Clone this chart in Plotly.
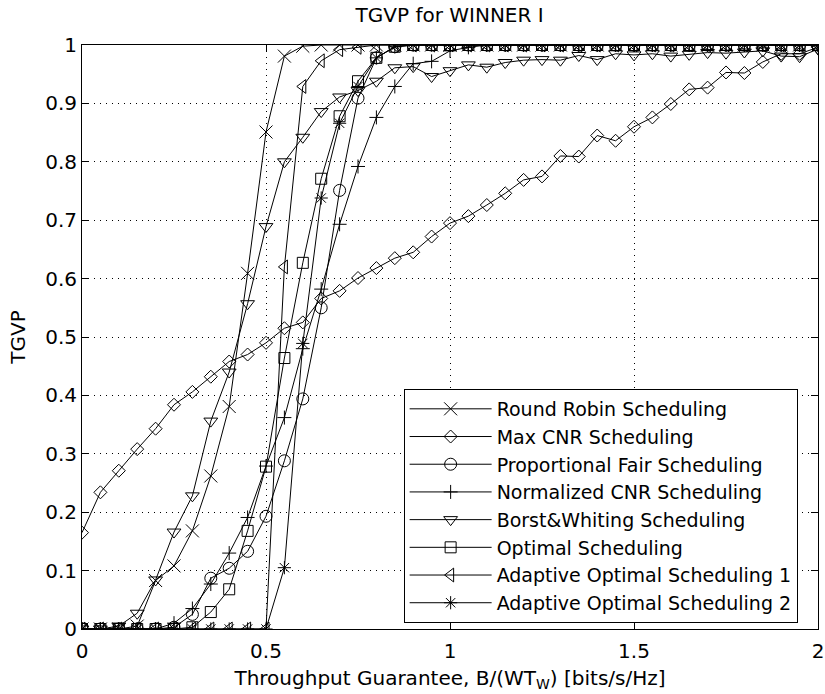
import plotly.graph_objects as go

# Throughput guarantee values (x axis)
x_vals = [0.0, 0.05, 0.1, 0.15, 0.2, 0.25, 0.3, 0.35, 0.4, 0.45,
          0.5, 0.55, 0.6, 0.65, 0.7, 0.75, 0.8, 0.85, 0.9, 0.95,
          1.0, 1.05, 1.1, 1.15, 1.2, 1.25, 1.3, 1.35, 1.4, 1.45,
          1.5, 1.55, 1.6, 1.65, 1.7, 1.75, 1.8, 1.85, 1.9, 1.95, 2.0]

round_robin = [0, 0, 0, 0.005, 0.083, 0.108, 0.168, 0.262, 0.381, 0.609,
               0.851, 0.981, 0.998] + [1.0] * 28

max_cnr = [0.165, 0.234, 0.271, 0.308, 0.343, 0.384, 0.406, 0.432, 0.458, 0.470,
           0.490, 0.515, 0.525, 0.566, 0.579, 0.601, 0.618, 0.635, 0.645, 0.672,
           0.695, 0.707, 0.726, 0.746, 0.769, 0.775, 0.810, 0.809, 0.845, 0.836,
           0.860, 0.876, 0.899, 0.924, 0.927, 0.953, 0.952, 0.971, 0.985, 0.985, 0.996]

prop_fair = [0, 0, 0, 0, 0, 0.003, 0.025, 0.087, 0.104, 0.133,
             0.193, 0.288, 0.394, 0.550, 0.751, 0.909, 0.978, 0.997] + [1.0] * 23

norm_cnr = [0, 0, 0, 0, 0, 0.010, 0.035, 0.077, 0.130, 0.191,
            0.279, 0.362, 0.480, 0.582, 0.693, 0.792, 0.876, 0.929, 0.968, 0.972,
            0.990, 0.996] + [1.0] * 19

borst_whiting = [0, 0, 0.005, 0.027, 0.084, 0.166, 0.228, 0.356, 0.440, 0.557,
                 0.689, 0.800, 0.842, 0.886, 0.911, 0.922, 0.938, 0.961, 0.963, 0.946,
                 0.956, 0.966, 0.962, 0.970, 0.974, 0.975, 0.974, 0.982, 0.975, 0.985,
                 0.983, 0.985, 0.981, 0.984, 0.987, 0.986, 0.988, 0.990, 0.981, 0.980, 0.993]

optimal = [0, 0, 0, 0, 0, 0, 0.003, 0.029, 0.068, 0.168,
           0.278, 0.464, 0.627, 0.771, 0.878, 0.938, 0.978, 0.997] + [1.0] * 23

adaptive_1 = [0] * 11 + [0.620, 0.929, 0.973, 0.992, 0.996] + [1.0] * 25

adaptive_2 = [0] * 11 + [0.105, 0.489, 0.738, 0.866, 0.929, 0.978, 0.997] + [1.0] * 23

series_names = ["Round Robin Scheduling", "Max CNR Scheduling",
                "Proportional Fair Scheduling", "Normalized CNR Scheduling",
                "Borst&Whiting Scheduling", "Optimal Scheduling",
                "Adaptive Optimal Scheduling 1", "Adaptive Optimal Scheduling 2"]
series_values = [round_robin, max_cnr, prop_fair, norm_cnr,
                 borst_whiting, optimal, adaptive_1, adaptive_2]

x_tickvals = [0, 0.5, 1, 1.5, 2]
x_ticktext = ["0", "0.5", "1", "1.5", "2"]
y_tickvals = [0, 0.1, 0.2, 0.3, 0.4, 0.5, 0.6, 0.7, 0.8, 0.9, 1]
y_ticktext = ["0", "0.1", "0.2", "0.3", "0.4", "0.5", "0.6", "0.7", "0.8", "0.9", "1"]

# marker styles (symbol, size)
styles = [("x-thin-open", 13), ("diamond-open", 10), ("circle-open", 12),
          ("cross-thin-open", 10), ("triangle-down-open", 12), ("square-open", 11),
          ("triangle-left-open", 12), ("asterisk-open", 11)]

FONT = "DejaVu Sans, Liberation Sans, Arial, sans-serif"
FS = 20

fig = go.Figure()
for name, vals, (sym, sz) in zip(series_names, series_values, styles):
    fig.add_trace(go.Scatter(
        x=x_vals, y=vals, name=name, mode="lines+markers",
        line=dict(color="black", width=1),
        marker=dict(symbol=sym, size=sz, color="black",
                    line=dict(color="black", width=1)),
    ))

axis_common = dict(
    showline=True, linecolor="black", linewidth=1, mirror="allticks",
    ticks="inside", ticklen=7, tickcolor="black", tickwidth=1,
    showgrid=True, gridcolor="black", gridwidth=1, griddash="1px,5px",
    zeroline=False, tickfont=dict(family=FONT, size=FS, color="black"),
    ticklabeloverflow="allow", automargin=False,
)

fig.update_layout(
    width=825, height=694,
    margin=dict(l=82, r=7, t=45, b=65),
    paper_bgcolor="white", plot_bgcolor="white",
    font=dict(family=FONT, size=FS, color="black"),
    title=dict(text="TGVP for WINNER I", x=0.545, xanchor="center",
               y=0.979, yanchor="middle",
               font=dict(family=FONT, size=FS, color="black")),
    xaxis=dict(range=[0, 2], tickvals=x_tickvals, ticktext=x_ticktext,
               ticklabelstandoff=4,
               title=dict(text="Throughput Guarantee, B/(WT<sub>W</sub>) [bits/s/Hz]",
                          standoff=8, font=dict(family=FONT, size=FS)),
               **axis_common),
    yaxis=dict(range=[0, 1], tickvals=y_tickvals, ticktext=y_ticktext,
               title=dict(text="TGVP", standoff=14, font=dict(family=FONT, size=FS)),
               **axis_common),
    legend=dict(x=0.437, y=0.411, xanchor="left", yanchor="top",
                bgcolor="white", bordercolor="black", borderwidth=1,
                font=dict(family=FONT, size=19, color="black"),
                itemwidth=82, tracegroupgap=0),
    showlegend=True,
)

fig.write_html("out.html")
